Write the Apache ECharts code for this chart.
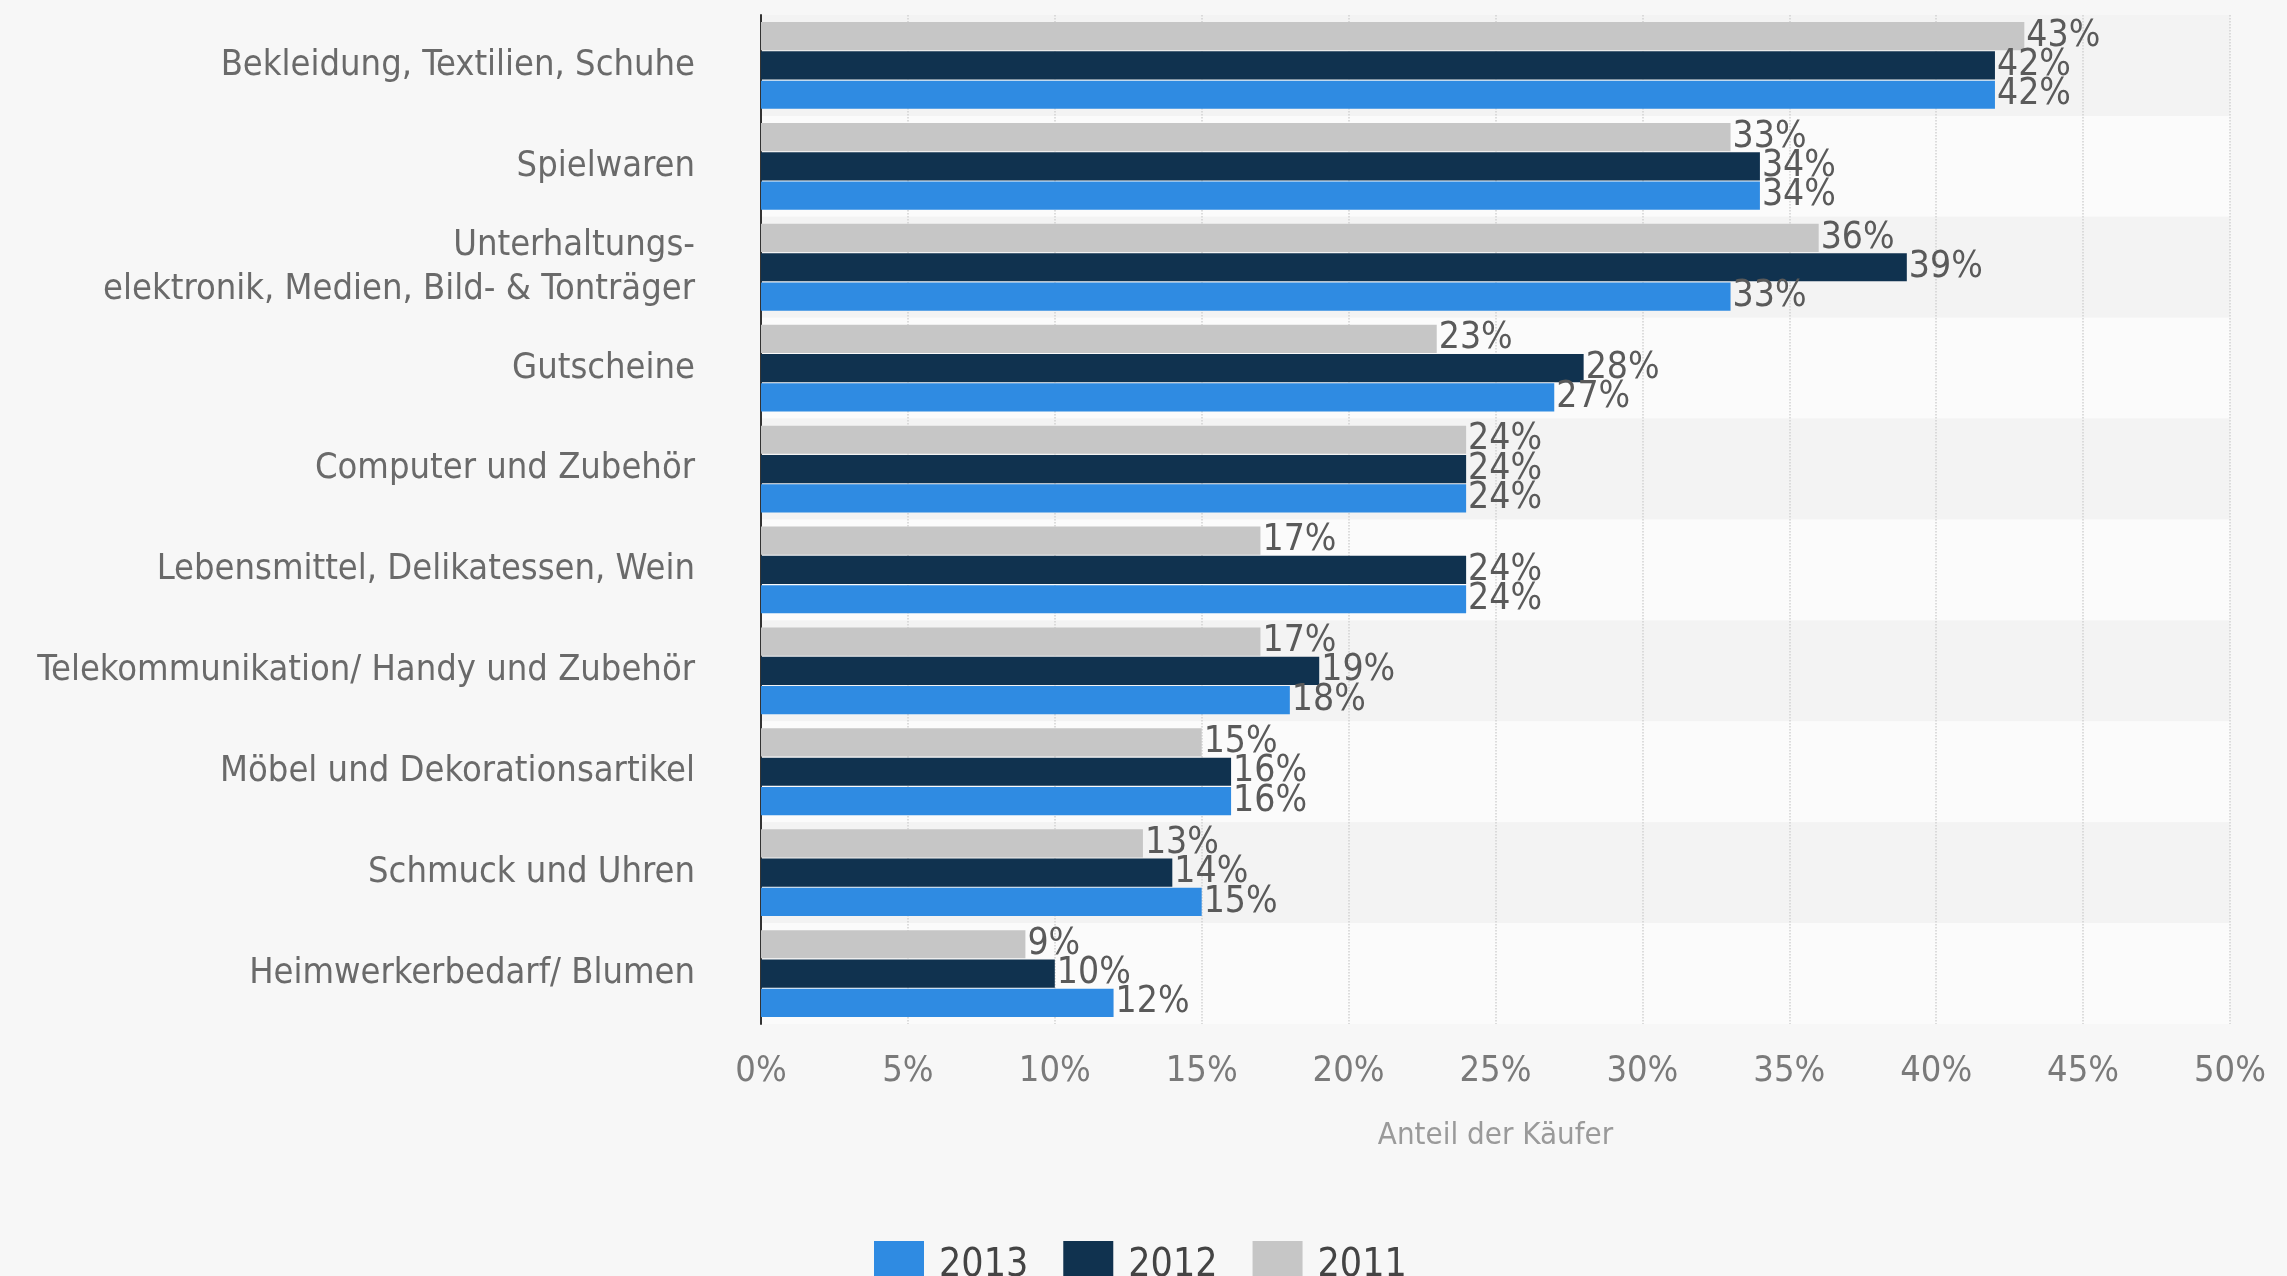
<!DOCTYPE html>
<html>
<head>
<meta charset="utf-8">
<script src="https://cdn.jsdelivr.net/npm/echarts@6/dist/echarts.min.js"></script>
<style>
  html, body { margin: 0; padding: 0; background: #f7f7f7; }
  #chart { width: 2287px; height: 1276px; }
</style>
</head>
<body>
<div id="chart"></div>
<script>
// Produktkategorien (von oben nach unten)
const categories = [
  'Bekleidung, Textilien, Schuhe',
  'Spielwaren',
  'Unterhaltungs-\nelektronik, Medien, Bild- & Tonträger',
  'Gutscheine',
  'Computer und Zubehör',
  'Lebensmittel, Delikatessen, Wein',
  'Telekommunikation/ Handy und Zubehör',
  'Möbel und Dekorationsartikel',
  'Schmuck und Uhren',
  'Heimwerkerbedarf/ Blumen'
];

// Anteil der Käufer in Prozent je Jahr
const values2011 = [43, 33, 36, 23, 24, 17, 17, 15, 13, 9];
const values2012 = [42, 34, 39, 28, 24, 24, 19, 16, 14, 10];
const values2013 = [42, 34, 33, 27, 24, 24, 18, 16, 15, 12];

const xTicks = [0, 5, 10, 15, 20, 25, 30, 35, 40, 45, 50];
const axisTitle = 'Anteil der Käufer';

const FONT = '"DejaVu Sans Condensed", "DejaVu Sans", sans-serif';

function barSeries(name, data, color) {
  return {
    name: name,
    type: 'bar',
    data: data,
    barCategoryGap: '14%',
    barGap: '4%',
    itemStyle: { color: color },
    label: {
      show: true,
      position: 'right',
      distance: 2,
      formatter: '{c}%',
      fontFamily: FONT,
      fontSize: 37,
      color: '#5a5a5a'
    }
  };
}

const chart = echarts.init(document.getElementById('chart'));
chart.setOption({
  backgroundColor: '#f7f7f7',
  animation: false,
  textStyle: { fontFamily: FONT },
  grid: { left: 761, right: 57, top: 15, bottom: 252, containLabel: false },
  legend: {
    data: ['2013', '2012', '2011'],
    left: 869,
    top: 1236,
    icon: 'rect',
    itemWidth: 50,
    itemHeight: 50,
    itemGap: 35,
    textStyle: { fontFamily: FONT, fontSize: 39, color: '#444', padding: [0, 0, 0, 10] }
  },
  xAxis: {
    type: 'value',
    min: xTicks[0],
    max: xTicks[xTicks.length - 1],
    interval: xTicks[1] - xTicks[0],
    name: axisTitle,
    nameLocation: 'middle',
    nameGap: 96,
    nameTextStyle: { fontFamily: FONT, fontSize: 31, color: '#9a9a9a', verticalAlign: 'top' },
    axisLine: { show: false },
    axisTick: { show: false },
    axisLabel: { formatter: '{value}%', fontFamily: FONT, fontSize: 36, color: '#7a7a7a', margin: 30 },
    splitLine: { show: true, lineStyle: { color: '#d2d2d2', type: 'dotted', width: 1.5 } }
  },
  yAxis: {
    type: 'category',
    data: categories,
    inverse: true,
    axisLine: { show: true, lineStyle: { color: '#333', width: 2 } },
    axisTick: { show: false },
    axisLabel: {
      fontFamily: FONT,
      fontSize: 36,
      color: '#6a6a6a',
      margin: 66,
      lineHeight: 44,
      align: 'right'
    },
    splitArea: { show: true, areaStyle: { color: ['#f3f3f3', '#fbfbfb'] } }
  },
  series: [
    barSeries('2011', values2011, '#c6c6c6'),
    barSeries('2012', values2012, '#10324f'),
    barSeries('2013', values2013, '#2f8be2')
  ]
});
</script>
</body>
</html>
